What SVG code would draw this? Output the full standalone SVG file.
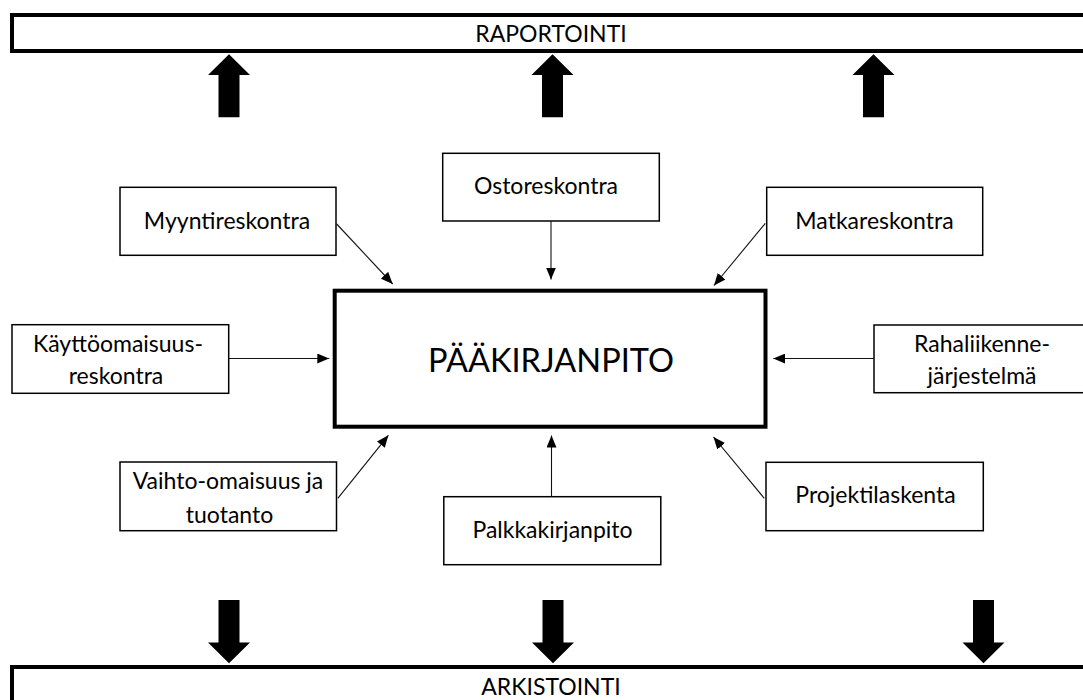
<svg xmlns="http://www.w3.org/2000/svg" width="1083" height="700" viewBox="0 0 1083 700">
  <style>
    .bar { fill: #fff; stroke: #000; stroke-width: 4; }
    .box { fill: #fff; stroke: #000; stroke-width: 1.5; }
    .main { fill: #fff; stroke: #000; stroke-width: 4; }
    .lbl { font-family: Lato, "Liberation Sans", sans-serif; font-size: 23px; fill: #000; text-anchor: middle; }
    .title { font-family: Lato, "Liberation Sans", sans-serif; font-size: 32.5px; fill: #000; text-anchor: middle; }
    .con { stroke: #111; stroke-width: 1.1; fill: none; marker-end: url(#ah); }
    .block { fill: #000; }
  </style>
  <defs>
    <marker id="ah" markerUnits="userSpaceOnUse" markerWidth="12" markerHeight="10" refX="12" refY="5" orient="auto">
      <path d="M0,0 L12,5 L0,10 Z" fill="#000"/>
    </marker>
  </defs>

  <g id="raportointi">
    <rect class="bar" x="12" y="15" width="1100" height="36"/>
    <text class="lbl" x="551" y="42">RAPORTOINTI</text>
  </g>
  <g id="arkistointi">
    <rect class="bar" x="12" y="667" width="1100" height="60"/>
    <text class="lbl" x="551" y="695">ARKISTOINTI</text>
  </g>

  <g id="paakirjanpito">
    <rect class="main" x="334.7" y="290.7" width="430.8" height="136"/>
    <text class="title" x="551" y="372">PÄÄKIRJANPITO</text>
  </g>

  <g id="myyntireskontra">
    <rect class="box" x="120" y="187.3" width="216" height="68"/>
    <text class="lbl" x="227" y="229">Myyntireskontra</text>
  </g>
  <g id="ostoreskontra">
    <rect class="box" x="442.7" y="153.3" width="216.6" height="67.7"/>
    <text class="lbl" x="546" y="194">Ostoreskontra</text>
  </g>
  <g id="matkareskontra">
    <rect class="box" x="766.7" y="187.3" width="216" height="68"/>
    <text class="lbl" x="874.5" y="229">Matkareskontra</text>
  </g>
  <g id="kayttoomaisuusreskontra">
    <rect class="box" x="12" y="324.7" width="216.7" height="68.6"/>
    <text class="lbl" x="118" y="351.5">Käyttöomaisuus-</text>
    <text class="lbl" x="116" y="383.5">reskontra</text>
  </g>
  <g id="rahaliikennejarjestelma">
    <rect class="box" x="874" y="325" width="220" height="67.7"/>
    <text class="lbl" x="982" y="351.5">Rahaliikenne-</text>
    <text class="lbl" x="982" y="383.5">järjestelmä</text>
  </g>
  <g id="vaihtoomaisuus">
    <rect class="box" x="120" y="462" width="216.5" height="68.7"/>
    <text class="lbl" x="228" y="489.3">Vaihto-omaisuus ja</text>
    <text class="lbl" x="229.5" y="522.7">tuotanto</text>
  </g>
  <g id="palkkakirjanpito">
    <rect class="box" x="443.8" y="496.7" width="217" height="68"/>
    <text class="lbl" x="552.5" y="537.5">Palkkakirjanpito</text>
  </g>
  <g id="projektilaskenta">
    <rect class="box" x="766" y="462.3" width="217.3" height="68.4"/>
    <text class="lbl" x="875.5" y="503.3">Projektilaskenta</text>
  </g>

  <g id="connectors">
    <line class="con" x1="336.7" y1="224" x2="392.7" y2="284"/>
    <line class="con" x1="551" y1="221" x2="551" y2="279.5"/>
    <line class="con" x1="765.3" y1="223.3" x2="714" y2="285.5"/>
    <line class="con" x1="229" y1="358.5" x2="329.3" y2="358.5"/>
    <line class="con" x1="874" y1="358.5" x2="773.3" y2="358.5"/>
    <line class="con" x1="337.8" y1="498.3" x2="388.4" y2="435.3"/>
    <line class="con" x1="551.5" y1="496.7" x2="551.5" y2="435.5"/>
    <line class="con" x1="764.3" y1="498.3" x2="713.5" y2="437"/>
    <path class="block" d="M229,54.3 L250,75 L239.5,75 L239.5,117.3 L218.5,117.3 L218.5,75 L208,75 Z"/>
    <path class="block" d="M552.5,54.3 L573.5,75 L563,75 L563,117.3 L542,117.3 L542,75 L531.5,75 Z"/>
    <path class="block" d="M873.5,54.3 L894.5,75 L884,75 L884,117.3 L863,117.3 L863,75 L852.5,75 Z"/>
    <path class="block" d="M229,663.3 L250,642.5 L239.5,642.5 L239.5,600 L218.5,600 L218.5,642.5 L208,642.5 Z"/>
    <path class="block" d="M553,663.3 L574,642.5 L563.5,642.5 L563.5,600 L542.5,600 L542.5,642.5 L532,642.5 Z"/>
    <path class="block" d="M983.5,663.3 L1004.5,642.5 L994,642.5 L994,600 L973,600 L973,642.5 L962.5,642.5 Z"/>
  </g>
</svg>
